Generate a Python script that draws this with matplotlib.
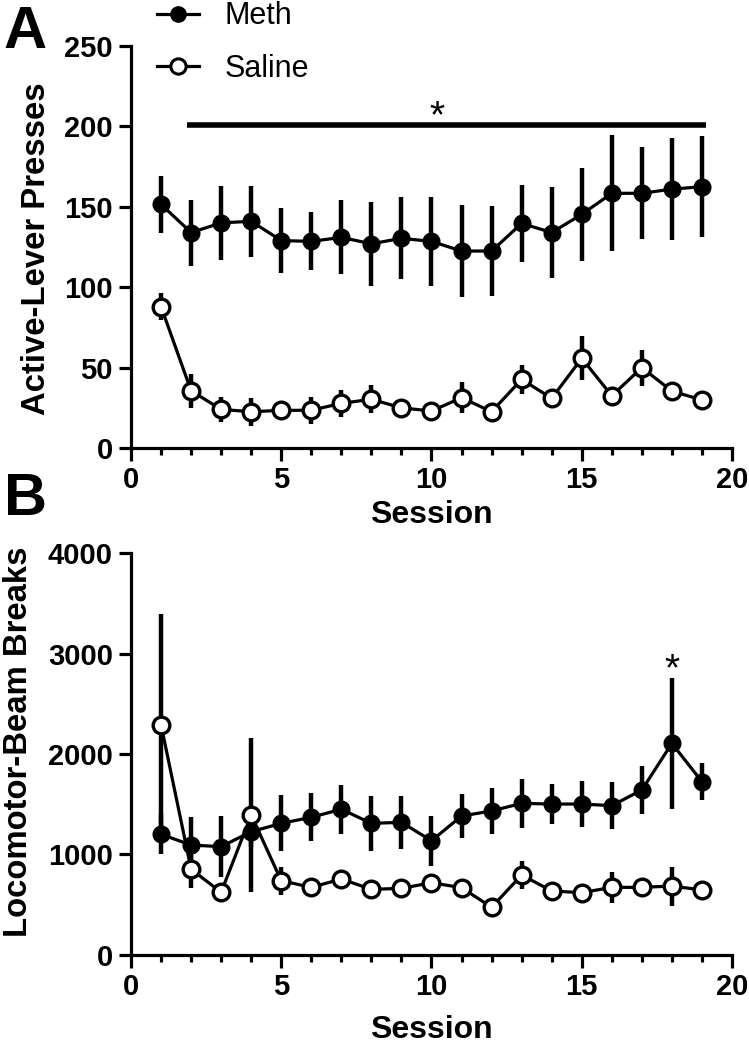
import numpy as np
import matplotlib
matplotlib.use("Agg")
import matplotlib.pyplot as plt
from matplotlib.ticker import MultipleLocator
from matplotlib.lines import Line2D

plt.rcParams['font.family'] = ['Liberation Sans', 'DejaVu Sans']

sessions = np.arange(1, 20)

# panel A - active lever presses
meth_press = [151.5, 134, 140, 141, 129, 128.5, 131, 127, 130.4, 128.5,
              122.5, 122.5, 139.7, 134, 145.3, 158.4, 158.4, 161, 162.5]
meth_press_sem = [17.7, 20.5, 23.2, 22, 20, 18, 23, 26, 25.5, 27.5,
                  28.7, 28.2, 24, 28.5, 29, 36, 28.5, 31.8, 31.5]
sal_press = [87.9, 35.6, 24, 22.6, 23.4, 23.5, 27.8, 30.3, 25, 23,
             31.3, 22.6, 42.7, 30.9, 55.8, 32.5, 50, 35.4, 29.9]
sal_press_sem = [8.5, 10.7, 7.7, 8.7, 4, 8.5, 8.2, 8.8, 4, 4,
                 9.8, 4, 8.9, 4, 13.7, 4, 11.2, 4, 4]

# panel B - locomotor beam breaks
meth_loco = [1201, 1094, 1078, 1227, 1310, 1370, 1450, 1310, 1320, 1137,
             1383, 1433, 1509, 1502, 1502, 1486, 1642, 2106, 1724]
meth_loco_sem = [200, 280, 302, 150, 279, 237, 242, 277, 263, 247,
                 219, 229, 243, 203, 228, 233, 238, 651, 183]
sal_loco = [2290, 853, 624, 1393, 739, 673, 756, 653, 663, 719,
            670, 475, 796, 637, 620, 673, 673, 686, 647]
sal_loco_sem = [1100, 183, 60, 763, 141, 60, 60, 60, 60, 60,
                60, 60, 136, 60, 60, 157, 60, 194, 60]

fig = plt.figure(figsize=(7.49, 10.5), dpi=100)
axA = fig.add_axes([0.1749, 0.5733, 0.8024, 0.3829])
axB = fig.add_axes([0.1749, 0.0905, 0.8024, 0.3828])

LW = 2.3
MS = 12


def draw(ax, m, msem, s, ssem):
    ax.errorbar(sessions, m, yerr=msem, fmt='none', ecolor='black', elinewidth=3.2, capsize=0, zorder=1)
    ax.plot(sessions, m, '-o', color='black', lw=LW, ms=MS, mfc='black', mec='black', zorder=2, clip_on=False)
    ax.errorbar(sessions, s, yerr=ssem, fmt='none', ecolor='black', elinewidth=3.2, capsize=0, zorder=3)
    ax.plot(sessions, s, '-o', color='black', lw=LW, ms=MS, mfc='white', mec='black', mew=2.4, zorder=4, clip_on=False)


def style(ax, xpad):
    for sp in ['top', 'right']:
        ax.spines[sp].set_visible(False)
    for sp in ['left', 'bottom']:
        ax.spines[sp].set_linewidth(2.3)
    ax.set_xlim(0, 20)
    ax.xaxis.set_major_locator(MultipleLocator(5))
    ax.xaxis.set_minor_locator(MultipleLocator(1))
    ax.tick_params(axis='both', which='major', direction='out', length=9, width=2.3, labelsize=21, pad=4)
    ax.tick_params(axis='x', which='minor', direction='out', length=5, width=2.3)
    for lab in ax.get_xticklabels() + ax.get_yticklabels():
        lab.set_fontweight('bold')
    ax.set_xlabel('Session', fontsize=23, fontweight='bold', labelpad=xpad)


draw(axA, meth_press, meth_press_sem, sal_press, sal_press_sem)
axA.set_ylim(0, 250)
axA.yaxis.set_major_locator(MultipleLocator(50))
style(axA, 4)
axA.set_ylabel('Active-Lever Presses', fontsize=23.7, fontweight='bold')
axA.yaxis.set_label_coords(-0.131, 0.495)
axA.plot([1.85, 19.15], [201, 201], color='black', lw=4, solid_capstyle='butt', clip_on=False)
axA.text(10.19, 199.6, '*', fontsize=28, ha='center', va='baseline')

draw(axB, meth_loco, meth_loco_sem, sal_loco, sal_loco_sem)
axB.set_ylim(0, 4000)
axB.yaxis.set_major_locator(MultipleLocator(1000))
style(axB, 10)
axB.set_ylabel('Locomotor-Beam Breaks', fontsize=23.7, fontweight='bold')
axB.yaxis.set_label_coords(-0.161, 0.53)
axB.text(18.0, 2736, '*', fontsize=28, ha='center', va='baseline')

fig.text(0.005, 0.969, 'A', fontsize=43, fontweight='bold', va='center', ha='left')
fig.text(0.005, 0.524, 'B', fontsize=43, fontweight='bold', va='center', ha='left')

handles = [Line2D([], [], color='black', lw=LW, marker='o', ms=11, mfc='black', mec='black'),
           Line2D([], [], color='black', lw=LW, marker='o', ms=11, mfc='white', mec='black', mew=2.2)]
fig.legend(handles, ['Meth', 'Saline'], loc='upper left', bbox_to_anchor=(0.173, 1.0248),
           frameon=False, fontsize=22, handlelength=1.37, handletextpad=0.85, labelspacing=0.74)

fig.savefig('out.png', dpi=100)
